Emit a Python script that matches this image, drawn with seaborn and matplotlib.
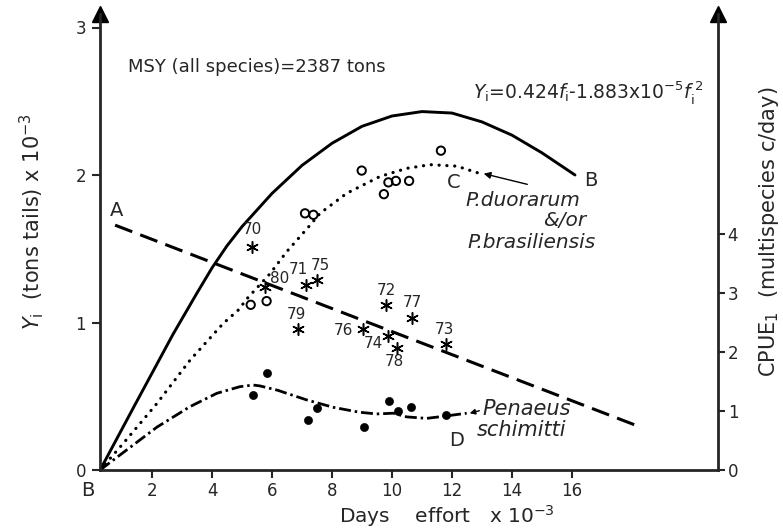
import matplotlib
matplotlib.use("Agg")
import matplotlib.pyplot as plt
import seaborn as sns

sns.set_theme(style="ticks")
plt.rcParams['font.family'] = ['DejaVu Sans']
plt.rcParams['mathtext.fontset'] = 'dejavusans'

# ---------------- data ----------------
# total yield curve (left axis, tons tails x 10^-3) vs days effort x 10^-3
total_effort = [0.27, 1.4, 2.7, 3.5, 4.0, 4.5, 5.0, 6.0, 7.0, 8.0, 9.0, 10.0, 11.0, 12.0, 13.0, 14.0, 15.0, 16.1]
total_yield = [0.0, 0.43, 0.92, 1.20, 1.37, 1.52, 1.65, 1.875, 2.065, 2.215, 2.33, 2.40, 2.43, 2.42, 2.36, 2.27, 2.15, 2.0]

# P. duorarum &/or P. brasiliensis fitted curve (C)
duo_curve_effort = [0.27, 1.04, 2.16, 3.27, 4.38, 4.88, 5.16, 5.93, 6.49, 6.88, 7.27, 7.6, 8.49, 9.6, 10.49, 11.27, 12.16, 12.93]
duo_curve_yield = [0.0, 0.18, 0.45, 0.745, 0.995, 1.085, 1.16, 1.33, 1.48, 1.57, 1.66, 1.74, 1.876, 1.99, 2.045, 2.07, 2.06, 2.01]
# observed points (open circles)
duo_effort = [5.29, 5.82, 7.10, 7.38, 8.99, 9.73, 9.88, 10.13, 10.57, 11.63]
duo_yield = [1.12, 1.145, 1.74, 1.73, 2.03, 1.87, 1.95, 1.96, 1.96, 2.165]

# Penaeus schimitti fitted curve (D)
sch_curve_effort = [0.27, 2.16, 3.27, 4.16, 4.93, 5.37, 5.6, 6.2, 6.49, 7.16, 7.6, 8.04, 8.9, 9.49, 10.04, 10.49, 11.16, 11.79, 12.49]
sch_curve_yield = [0.0, 0.29, 0.43, 0.52, 0.565, 0.576, 0.57, 0.54, 0.52, 0.475, 0.45, 0.425, 0.392, 0.38, 0.385, 0.36, 0.35, 0.366, 0.385]
# observed points (filled dots)
sch_effort = [5.36, 5.84, 7.21, 7.49, 9.07, 9.91, 10.19, 10.62, 11.79]
sch_yield = [0.51, 0.655, 0.34, 0.42, 0.29, 0.47, 0.40, 0.43, 0.373]

# multispecies CPUE (right axis) by year
years = ["70", "80", "71", "75", "79", "72", "77", "76", "74", "78", "73"]
cpue_effort = [5.33, 5.77, 7.13, 7.50, 6.87, 9.80, 10.67, 9.03, 9.87, 10.17, 11.80]
cpue = [3.78, 3.10, 3.14, 3.22, 2.39, 2.80, 2.58, 2.39, 2.27, 2.07, 2.14]
# CPUE regression line A
cpue_line_effort = [0.77, 18.27]
cpue_line = [4.15, 0.73]

x_ticks = [2, 4, 6, 8, 10, 12, 14, 16]
left_ticks = [0, 1, 2, 3]
right_ticks = [0, 1, 2, 3, 4]

# ---------------- layout ----------------
W, H = 783, 531
fig = plt.figure(figsize=(W / 100, H / 100), dpi=100)
L, R, B, T = 100, 718, 470, 14
X0, XS, YS, CS = 92, 30.0, 147.5, 59.0
ax = fig.add_axes([L / W, 1 - B / H, (R - L) / W, (B - T) / H])
ax.set_xlim((L - X0) / XS, (R - X0) / XS)
ax.set_ylim(0, (B - T) / YS)
ax2 = ax.twinx()
ax2.set_ylim(0, (B - T) / CS)
ax2.set_xlim(ax.get_xlim())


def ftext(px, py, s, **kw):
    kw.setdefault('ha', 'center')
    kw.setdefault('va', 'center')
    fig.text(px / W, 1 - py / H, s, **kw)


# curves
sns.lineplot(x=total_effort, y=total_yield, ax=ax, color='black', lw=2.1,
             sort=False, estimator=None)
sns.lineplot(x=duo_curve_effort, y=duo_curve_yield, ax=ax, color='black', lw=2.3,
             sort=False, estimator=None, linestyle=(0, (0.05, 2.4)),
             dash_capstyle='round')
sns.lineplot(x=sch_curve_effort, y=sch_curve_yield, ax=ax, color='black', lw=2.0,
             sort=False, estimator=None, linestyle=(0, (4.3, 1.4, 0.9, 1.4)))
sns.lineplot(x=cpue_line_effort, y=cpue_line, ax=ax2, color='black', lw=2.2,
             sort=False, estimator=None, linestyle=(0, (6, 2.8)))

# points
sns.scatterplot(x=duo_effort, y=duo_yield, ax=ax, marker='o', s=36,
                facecolors='none', edgecolors='black', linewidth=1.4, zorder=4)
sns.scatterplot(x=sch_effort, y=sch_yield, ax=ax, marker='o', s=34,
                color='black', edgecolor='black', zorder=4)
sns.scatterplot(x=cpue_effort, y=cpue, ax=ax2, marker=(6, 2, 0), s=70,
                color='black', linewidth=1.1, zorder=4)

label_offsets = [(0, 17), (15, 9), (-8, 15), (3, 15), (-2, 14), (0, 14), (0, 15),
                 (-19, -2), (-15, -7), (-3, -14), (-2, 14)]
for yr, xv, cv, (dx, dy) in zip(years, cpue_effort, cpue, label_offsets):
    ax2.annotate(yr, (xv, cv), xytext=(dx * 0.72, dy * 0.72), textcoords='offset points',
                 ha='center', va='center', fontsize=11)

# axes styling
for a in (ax, ax2):
    a.spines['top'].set_visible(False)
ax.spines['right'].set_visible(False)
ax2.spines['left'].set_visible(False)
ax2.spines['bottom'].set_visible(False)
for sp in ('left', 'bottom'):
    ax.spines[sp].set_linewidth(2.0)
ax2.spines['right'].set_linewidth(2.0)

ax.set_xticks(x_ticks)
ax.set_xticklabels([str(t) for t in x_ticks])
ax.set_yticks(left_ticks)
ax.set_yticklabels([str(t) for t in left_ticks])
ax2.set_yticks(right_ticks)
ax2.set_yticklabels([str(t) for t in right_ticks])
ax.tick_params(axis='x', direction='out', length=6, width=1.5, labelsize=12, pad=3)
ax.tick_params(axis='y', direction='out', length=6, width=1.5, labelsize=12, pad=4)
ax2.tick_params(axis='y', direction='out', length=5, width=1.5, labelsize=12, pad=2)

# arrow heads at the top of the vertical axes
ax.plot([0], [1], marker='^', ms=11, color='black', transform=ax.transAxes, clip_on=False)
ax2.plot([1], [1], marker='^', ms=11, color='black', transform=ax2.transAxes, clip_on=False)

ax.set_xlabel(r"Days    effort   x 10$^{-3}$", fontsize=14.5)
ax.xaxis.label.set_va('baseline')
ax.xaxis.set_label_coords((447 - L) / (R - L), -(523 - B) / (B - T))
ax.set_ylabel(r"$Y_{\rm i}$  (tons tails) x 10$^{-3}$", fontsize=15)
ax.yaxis.set_label_coords(-(L - 46) / (R - L), (B - 222) / (B - T))
ax2.set_ylabel(r"CPUE$_1$  (multispecies c/day)", fontsize=15, rotation=90)
ax2.yaxis.set_label_coords((757 - L) / (R - L), (B - 232) / (B - T))

# annotations
ftext(128, 67, "MSY (all species)=2387 tons", ha='left', fontsize=13)
ftext(473, 92, r"$Y_{\rm i}$=0.424$f_{\rm i}$-1.883x10$^{-5}$$f_{\rm i}^{\,2}$", ha='left', fontsize=13.5)
ftext(117, 210, "A", fontsize=14)
ftext(88, 491, "B", fontsize=14)
ftext(591, 181, "B", fontsize=14)
ftext(454, 182, "C", fontsize=14)
ftext(457, 440, "D", fontsize=14)
ftext(523, 201, "P.duorarum", fontsize=14.5, style='italic')
ftext(565, 221, "&/or", fontsize=14.5, style='italic')
ftext(532, 242, "P.brasiliensis", fontsize=14.5, style='italic')
ftext(482, 409, "Penaeus", ha='left', fontsize=15, style='italic')
ftext(477, 430, "schimitti", ha='left', fontsize=15, style='italic')

fig.add_artist(matplotlib.patches.FancyArrowPatch(
    (530 / W, 1 - 185 / H), (481 / W, 1 - 173 / H), transform=fig.transFigure,
    arrowstyle='-|>', mutation_scale=10, color='black', lw=1.0))
fig.add_artist(matplotlib.patches.FancyArrowPatch(
    (482 / W, 1 - 410 / H), (467 / W, 1 - 414 / H), transform=fig.transFigure,
    arrowstyle='-|>', mutation_scale=8, color='black', lw=1.0))

fig.savefig("out.png", dpi=100)
